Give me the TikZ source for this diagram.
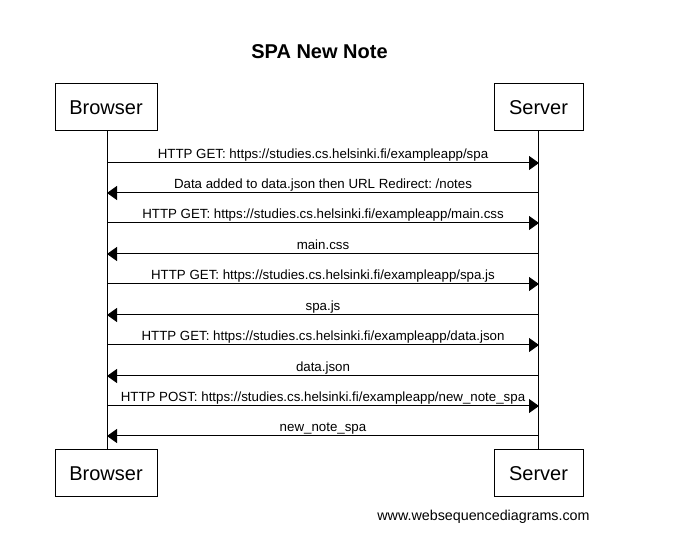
\documentclass[tikz,border=0pt]{standalone}
\usepackage{fontspec}
\setmainfont{Liberation Sans}
\usetikzlibrary{arrows.meta}
\begin{document}
\frenchspacing
\begin{tikzpicture}[x=1pt,y=-1pt,
  actor/.style={draw,line width=1pt,minimum height=47pt,inner sep=0pt,font=\fontsize{20}{24}\selectfont},
  msg/.style={line width=1pt,-{Triangle[length=10pt,width=14pt]}},
  lbl/.style={font=\fontsize{13.3}{16}\selectfont,inner sep=0pt,anchor=base}]
\useasboundingbox (0,0) rectangle (681,553);
\node[font=\bfseries\fontsize{20}{24}\selectfont] (title) at (319.5,52) {SPA New Note};
\node[actor,minimum width=102pt] (bt) at (106,107.5) {Browser};
\node[actor,minimum width=89pt] (st) at (538.5,107.5) {Server};
\node[actor,minimum width=102pt] (bb) at (106,473.5) {Browser};
\node[actor,minimum width=89pt] (sb) at (538.5,473.5) {Server};
\draw[line width=1pt] (bt.south) ++(1,0) coordinate (bl1) -- (bb.north -| bl1);
\draw[line width=1pt] (st.south) coordinate (sl1) -- (sb.north);
\foreach \y/\d/\t in {163/r/{HTTP GET: https://studies.cs.helsinki.fi/exampleapp/spa},
  193/l/{Data added to data.json then URL Redirect: /notes},
  223/r/{HTTP GET: https://studies.cs.helsinki.fi/exampleapp/main.css},
  254/l/{main.css},
  284/r/{HTTP GET: https://studies.cs.helsinki.fi/exampleapp/spa.js},
  315/l/{spa.js},
  345/r/{HTTP GET: https://studies.cs.helsinki.fi/exampleapp/data.json},
  376/l/{data.json},
  406/r/{HTTP POST: https://studies.cs.helsinki.fi/exampleapp/new\_note\_spa},
  436/l/{new\_note\_spa}}{
  \coordinate (pb) at (107,\y);
  \coordinate (ps) at (539,\y);
  \if r\d
    \draw[msg] (pb) -- (ps);
  \else
    \draw[msg] (ps) -- (pb);
  \fi
  \node[lbl] at (323,\y-4.5) {\t};
}
\node[font=\fontsize{14.3}{17}\selectfont] (foot) at (483.5,517) {www.websequencediagrams.com};
\end{tikzpicture}
\end{document}
